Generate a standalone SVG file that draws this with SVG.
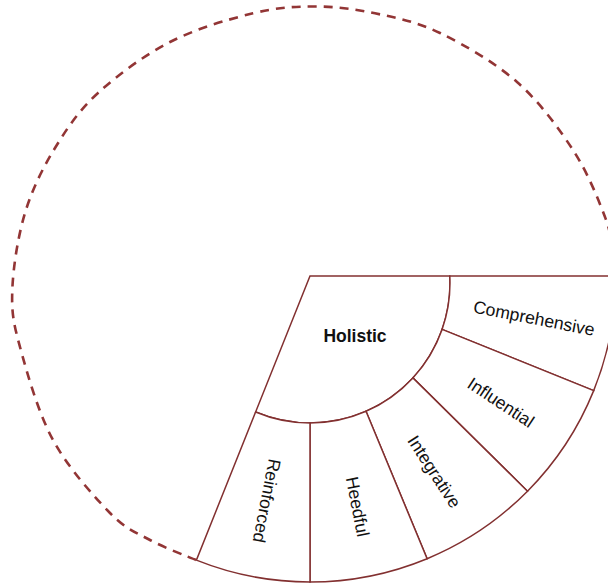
<svg xmlns="http://www.w3.org/2000/svg" width="608" height="586" viewBox="0 0 608 586">
<style>
.seg{fill:#ffffff;stroke:#823030;stroke-width:1.5;stroke-linejoin:miter}
.lbl{font-family:"Liberation Sans",Arial,sans-serif;font-size:17.6px;fill:#111111;text-anchor:middle;dominant-baseline:central}
.hub{font-family:"Liberation Sans",Arial,sans-serif;font-size:17.5px;font-weight:bold;fill:#111111;text-anchor:middle}
.dash{fill:none;stroke:#923535;stroke-width:2.6;stroke-dasharray:9 7}
</style>
<rect width="608" height="586" fill="#ffffff"/>
<g id="connectors">
<path class="dash" d="M196,560 C188.3,556.7 164.3,547.8 150,540 C135.7,532.2 126.2,529.7 110,513 C93.8,496.3 68,467.7 53,440 C38,412.3 26.8,372 20,347 C13.2,322 11.5,312.3 12.3,290 C13.1,267.7 17.9,236.7 25,213 C32.1,189.3 42.8,168 55,148 C67.2,128 78.8,110.7 98,93 C117.2,75.3 144.2,55.3 170,42 C195.8,28.7 228.8,19.2 253,13.3 C277.2,7.4 294.7,6.5 315,6.5 C335.3,6.5 354.2,8.9 375,13.3 C395.8,17.7 416.3,21.5 440,33 C463.7,44.5 494.8,62.5 517,82 C539.2,101.5 558.3,127.5 573,150 C587.7,172.5 598,198.7 605,217 C612,235.3 613.3,252.8 615,260"/>
</g>
<g id="holistic">
<path class="seg" d="M310,276 L449.8,276 A140,140 0 0,1 255.6,412 Z"/>
<text class="hub" x="355" y="341.5">Holistic</text>
</g>
<g id="comprehensive">
<path class="seg" d="M449.8,276 L616,276 A306,306 0 0,1 593.7,390.6 L442.1,329.4 A140,140 0 0,0 449.8,276 Z"/>
<text class="lbl" transform="translate(534,318.3) rotate(11)">Comprehensive</text>
</g>
<g id="influential">
<path class="seg" d="M442.1,329.4 L593.7,390.6 A306,306 0 0,1 527.5,491.2 L412.9,377.9 A140,140 0 0,0 442.1,329.4 Z"/>
<text class="lbl" transform="translate(500.8,402.5) rotate(33.5)">Influential</text>
</g>
<g id="integrative">
<path class="seg" d="M412.9,377.9 L527.5,491.2 A306,306 0 0,1 427.1,558.7 L366,411.3 A140,140 0 0,0 412.9,377.9 Z"/>
<text class="lbl" transform="translate(434.2,471.7) rotate(57)">Integrative</text>
</g>
<g id="heedful">
<path class="seg" d="M366,411.3 L427.1,558.7 A306,306 0 0,1 310,582 L310,423 A140,140 0 0,0 366,411.3 Z"/>
<text class="lbl" transform="translate(357.5,506.7) rotate(79)">Heedful</text>
</g>
<g id="reinforced">
<path class="seg" d="M310,423 L310,582 A306,306 0 0,1 196.4,560.1 L255.6,412 A140,140 0 0,0 310,423 Z"/>
<text class="lbl" transform="translate(266.7,500.8) rotate(101)">Reinforced</text>
</g>
</svg>
